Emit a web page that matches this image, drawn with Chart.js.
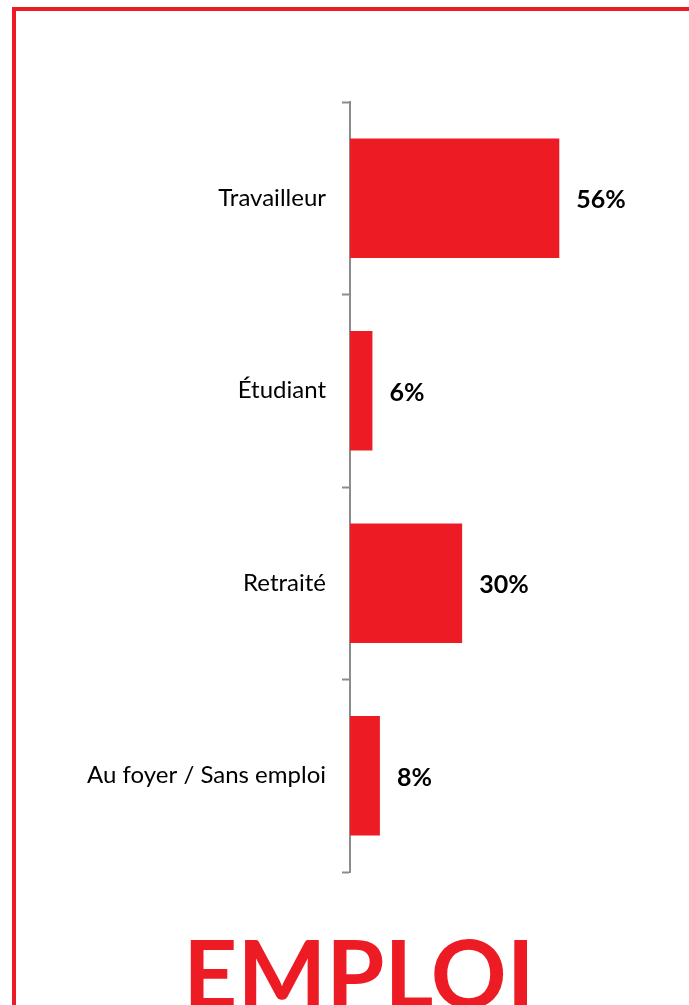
<!DOCTYPE html>
<html>
<head>
<meta charset="utf-8">
<script src="https://cdn.jsdelivr.net/npm/chart.js@4"></script>
<style>
  html, body { margin: 0; padding: 0; background: #fff; overflow: hidden; }
  #page { position: relative; width: 689px; height: 1005px; overflow: hidden; }
  #frame {
    position: absolute; left: 12px; top: 7px; width: 720px; height: 1100px;
    border-left: 4px solid #ED1C24; border-top: 4px solid #ED1C24;
  }
  #wrap { position: absolute; left: 0; top: 0; width: 689px; height: 1005px; }
  #titre {
    position: absolute; left: 0; top: 925px; width: 718px; text-align: center;
    font-family: Lato, sans-serif; font-weight: 700; font-size: 94px; line-height: 1;
    color: #ED1C24;
  }
</style>
</head>
<body>
<div id="page">
  <div id="frame"></div>
  <div id="wrap"><canvas id="emploi"></canvas></div>
  <div id="titre">EMPLOI</div>
</div>
<script>
const categories = ['Travailleur', 'Étudiant', 'Retraité', 'Au foyer / Sans emploi']
const valeurs = [56, 6, 30, 8]
const etiquettes = ['56%', '6%', '30%', '8%']

const rouge = '#ED1C24'
const gris = '#8C8C8C'

// etiquettes de valeur a droite des barres
const valeursPlugin = {
  id: 'valeurs',
  afterDatasetsDraw(chart) {
    const ctx = chart.ctx
    const meta = chart.getDatasetMeta(0)
    ctx.save()
    ctx.font = 'bold 25px Lato, sans-serif'
    ctx.fillStyle = '#000'
    ctx.textAlign = 'left'
    ctx.textBaseline = 'middle'
    meta.data.forEach((bar, i) => {
      ctx.fillText(etiquettes[i], bar.x + 17, bar.y + 2)
    })
    ctx.restore()
  }
}

const ctxEmploi = document.getElementById('emploi')

const graphique = new Chart(ctxEmploi, {
  type: 'bar',
  data: {
    labels: categories,
    datasets: [{
      data: valeurs,
      backgroundColor: rouge,
      borderWidth: 0,
      categoryPercentage: 1,
      barPercentage: 0.62
    }]
  },
  options: {
    indexAxis: 'y',
    responsive: true,
    maintainAspectRatio: false,
    animation: false,
    layout: { padding: { left: 0, right: 40, top: 102, bottom: 133 } },
    plugins: {
      legend: { display: false },
      tooltip: { enabled: false }
    },
    scales: {
      x: {
        display: false,
        min: 0,
        max: 80
      },
      y: {
        offset: true,
        afterFit: (s) => { s.width = 350 },
        border: { display: true, color: gris, width: 2 },
        grid: {
          offset: true,
          drawOnChartArea: false,
          drawTicks: true,
          tickLength: 8,
          tickWidth: 2,
          tickColor: gris
        },
        ticks: {
          padding: 16,
          color: '#000',
          font: { family: 'Lato, sans-serif', size: 24 }
        }
      }
    }
  },
  plugins: [valeursPlugin]
})
</script>
</body>
</html>
